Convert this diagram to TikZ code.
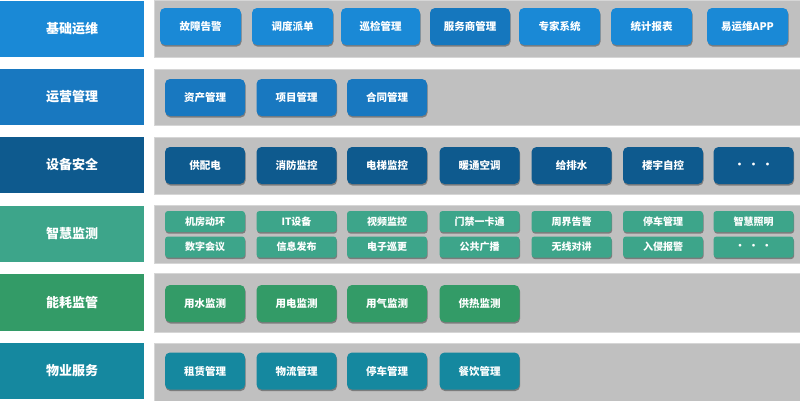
\documentclass[tikz,border=0pt]{standalone}
\usepackage{fontspec}
\newfontfamily\cjk{Noto Sans CJK SC}
\usetikzlibrary{shadows}
\definecolor{cA}{HTML}{1A89D6}
\definecolor{cAd}{HTML}{1577BE}
\definecolor{cB}{HTML}{1878C0}
\definecolor{cC}{HTML}{0E5A8E}
\definecolor{cD}{HTML}{3DA58A}
\definecolor{cE}{HTML}{339B67}
\definecolor{cF}{HTML}{15889F}
\definecolor{panelgray}{HTML}{C0C0C0}
\definecolor{panelline}{HTML}{D6D6D6}
\tikzset{
  lab/.style={rectangle, minimum width=144pt, minimum height=56pt, inner sep=0pt, text=white,
    font=\cjk\bfseries\fontsize{13}{13}\selectfont},
  pan/.style={rectangle, fill=panelgray, draw=panelline, line width=0.8pt, inner sep=0pt},
  bx/.style={rectangle, rounded corners=5pt, minimum width=80pt, minimum height=37pt, inner sep=0pt,
    text=white, font=\cjk\bfseries\fontsize{10.5}{10.5}\selectfont,
    drop shadow={shadow xshift=0.6pt, shadow yshift=-1.6pt, opacity=0.35, fill=black}},
  sbx/.style={bx, rounded corners=3pt, minimum height=21pt, font=\cjk\bfseries\fontsize{10}{10}\selectfont}
}
\begin{document}
\begin{tikzpicture}[x=1pt,y=-1pt]
\useasboundingbox (0,0) rectangle (800,400);
\fill[white] (0,0) rectangle (800,400);
% panels
\node[pan, minimum width=646pt, minimum height=57pt] (p1) at (477,28.5) {};
\node[pan, minimum width=646pt, minimum height=56pt] (p2) at (477,97) {};
\node[pan, minimum width=646pt, minimum height=57pt] (p3) at (477,165.5) {};
\node[pan, minimum width=646pt, minimum height=58pt] (p4) at (477,234) {};
\node[pan, minimum width=646pt, minimum height=59pt] (p5) at (477,302.5) {};
\node[pan, minimum width=646pt, minimum height=58pt] (p6) at (477,372) {};
% labels
\node[lab, fill=cA] (l1) at (72,29) {基础运维};
\node[lab, fill=cB] (l2) at (72,97) {运营管理};
\node[lab, fill=cC] (l3) at (72,165) {设备安全};
\node[lab, fill=cD] (l4) at (72,234) {智慧监测};
\node[lab, fill=cE, minimum height=57pt] (l5) at (72,302.5) {能耗监管};
\node[lab, fill=cF] (l6) at (72,371) {物业服务};
% row 1
\node[bx, fill=cA, minimum width=81pt] (a1) at (200.5,26.5) {故障告警};
\node[bx, fill=cA, minimum width=81pt] (a2) at (292.5,26.5) {调度派单};
\node[bx, fill=cA, minimum width=79pt] (a3) at (380.5,26.5) {巡检管理};
\node[bx, fill=cAd, minimum width=80pt] (a4) at (470,26.5) {服务商管理};
\node[bx, fill=cA, minimum width=81pt] (a5) at (559.5,26.5) {专家系统};
\node[bx, fill=cA, minimum width=81pt] (a6) at (651.5,26.5) {统计报表};
\node[bx, fill=cA, minimum width=81pt] (a7) at (747.5,26.5) {易运维APP};
% row 2
\node[bx, fill=cB] (b1) at (205,97.5) {资产管理};
\node[bx, fill=cB] (b2) at (296.5,97.5) {项目管理};
\node[bx, fill=cB] (b3) at (387,97.5) {合同管理};
% row 3
\node[bx, fill=cC] (c1) at (205,165.5) {供配电};
\node[bx, fill=cC] (c2) at (296.5,165.5) {消防监控};
\node[bx, fill=cC] (c3) at (387,165.5) {电梯监控};
\node[bx, fill=cC] (c4) at (479.5,165.5) {暖通空调};
\node[bx, fill=cC] (c5) at (571.5,165.5) {给排水};
\node[bx, fill=cC] (c6) at (663,165.5) {楼宇自控};
\node[bx, fill=cC] (c7) at (753.5,165.5) {·\,\,·\,\,·};
% row 4
\node[sbx, fill=cD] (d1) at (205,221.5) {机房动环};
\node[sbx, fill=cD] (d2) at (296.5,221.5) {IT设备};
\node[sbx, fill=cD] (d3) at (387,221.5) {视频监控};
\node[sbx, fill=cD] (d4) at (479.5,221.5) {门禁一卡通};
\node[sbx, fill=cD] (d5) at (571.5,221.5) {周界告警};
\node[sbx, fill=cD] (d6) at (663,221.5) {停车管理};
\node[sbx, fill=cD] (d7) at (753.5,221.5) {智慧照明};
\node[sbx, fill=cD] (e1) at (205,247) {数字会议};
\node[sbx, fill=cD] (e2) at (296.5,247) {信息发布};
\node[sbx, fill=cD] (e3) at (387,247) {电子巡更};
\node[sbx, fill=cD] (e4) at (479.5,247) {公共广播};
\node[sbx, fill=cD] (e5) at (571.5,247) {无线对讲};
\node[sbx, fill=cD] (e6) at (663,247) {入侵报警};
\node[sbx, fill=cD] (e7) at (753.5,247) {·\,\,·\,\,·};
% row 5
\node[bx, fill=cE] (f1) at (205,303.5) {用水监测};
\node[bx, fill=cE] (f2) at (296.5,303.5) {用电监测};
\node[bx, fill=cE] (f3) at (387,303.5) {用气监测};
\node[bx, fill=cE] (f4) at (479.5,303.5) {供热监测};
% row 6
\node[bx, fill=cF] (g1) at (205,371) {租赁管理};
\node[bx, fill=cF] (g2) at (296.5,371) {物流管理};
\node[bx, fill=cF] (g3) at (387,371) {停车管理};
\node[bx, fill=cF] (g4) at (479.5,371) {餐饮管理};
\end{tikzpicture}
\end{document}
